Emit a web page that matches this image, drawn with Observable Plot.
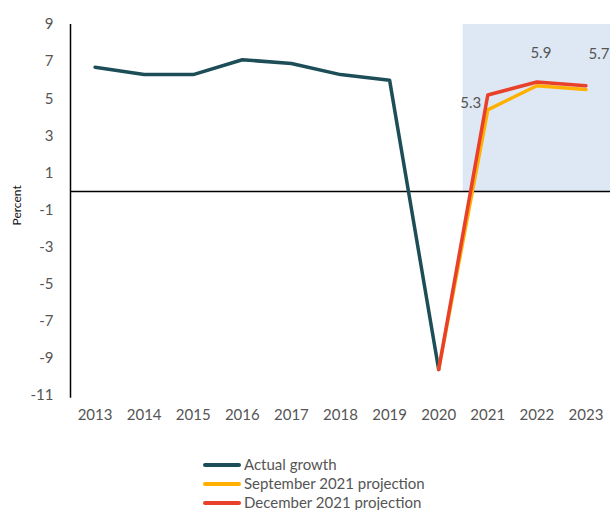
<!DOCTYPE html>
<html><head><meta charset="utf-8">
<script src="https://cdn.jsdelivr.net/npm/d3@7"></script>
<script src="https://cdn.jsdelivr.net/npm/@observablehq/plot@0.6"></script>
<style>
body{margin:0;background:#fff;font-family:Lato,"Open Sans",sans-serif;}
#legend{margin-left:203px;color:#555;font-size:15px;}
.row{display:flex;align-items:center;height:19px;line-height:19px;}
.sw{width:38px;height:4px;border-radius:2px;margin-right:3px;}
</style></head><body>
<div id="chart"></div>
<div id="legend"></div>
<script>
const actualYears = [2013,2014,2015,2016,2017,2018,2019,2020];
const actualValues = [6.7,6.3,6.3,7.1,6.9,6.3,6.0,-9.6];
const projYears = [2020,2021,2022,2023];
const sepValues = [-9.6,4.4,5.7,5.5];
const decValues = [-9.6,5.2,5.9,5.7];
const yTicks = [9,7,5,3,1,-1,-3,-5,-7,-9,-11];
const xTicks = [2013,2014,2015,2016,2017,2018,2019,2020,2021,2022,2023];
const seriesNames = ["Actual growth","September 2021 projection","December 2021 projection"];
const seriesColors = ["#1d4e57","#ffb000","#e8402a"];
const labelYears = [2021,2022,2023];
const labelTexts = ["5.3","5.9","5.7"];

const actual = actualYears.map((x,i)=>({x,y:actualValues[i]}));
const sep = projYears.map((x,i)=>({x,y:sepValues[i]}));
const dec = projYears.map((x,i)=>({x,y:decValues[i]}));
const labels = labelYears.map((x,i)=>({x,y:decValues[projYears.indexOf(x)],t:labelTexts[i]}));

const chart = Plot.plot({
  width:613, height:455,
  marginLeft:70, marginRight:3, marginTop:24, marginBottom:60,
  style:{fontFamily:"Lato, 'Open Sans', sans-serif", fontSize:"15px", color:"#555", background:"#fff"},
  x:{domain:[2012.5,2023.5], ticks:xTicks, tickFormat:d=>String(d), tickSize:0, tickPadding:14, label:null},
  y:{domain:[-11,9], ticks:yTicks, tickFormat:d=>String(d), tickSize:0, tickPadding:17, label:null},
  marks:[
    Plot.rect([{x1:2020.5,x2:2023.5,y1:0,y2:9}],{x1:"x1",x2:"x2",y1:"y1",y2:"y2",fill:"#dde8f4"}),
    Plot.ruleY([0],{stroke:"#000",strokeWidth:1.5}),
    Plot.ruleX([2012.5],{y1:-11.15,y2:9,stroke:"#000",strokeWidth:1.5}),
    Plot.line(actual,{x:"x",y:"y",stroke:seriesColors[0],strokeWidth:3.5,strokeLinecap:"round",strokeLinejoin:"round"}),
    Plot.line(sep,{x:"x",y:"y",stroke:seriesColors[1],strokeWidth:3.5,strokeLinecap:"round",strokeLinejoin:"round"}),
    Plot.line(dec,{x:"x",y:"y",stroke:seriesColors[2],strokeWidth:3.5,strokeLinecap:"round",strokeLinejoin:"round"}),
    Plot.text(labels.slice(0,1),{x:"x",y:"y",text:"t",dx:-17,dy:8,fill:"#555",fontSize:15}),
    Plot.text(labels.slice(1,2),{x:"x",y:"y",text:"t",dx:4,dy:-29,fill:"#555",fontSize:15}),
    Plot.text(labels.slice(2,3),{x:"x",y:"y",text:"t",dx:13,dy:-32,fill:"#555",fontSize:15}),
    Plot.text([{x:2012.5,y:-0.75}],{x:"x",y:"y",text:()=>"Percent",dx:-53,rotate:-90,fill:"#111",fontSize:12})
  ]
});
document.getElementById("chart").appendChild(chart);
const lg = document.getElementById("legend");
seriesNames.forEach((n,i)=>{
  const r=document.createElement("div");r.className="row";
  const s=document.createElement("div");s.className="sw";s.style.background=seriesColors[i];
  const t=document.createElement("span");t.textContent=n;
  r.appendChild(s);r.appendChild(t);lg.appendChild(r);
});
</script></body></html>
